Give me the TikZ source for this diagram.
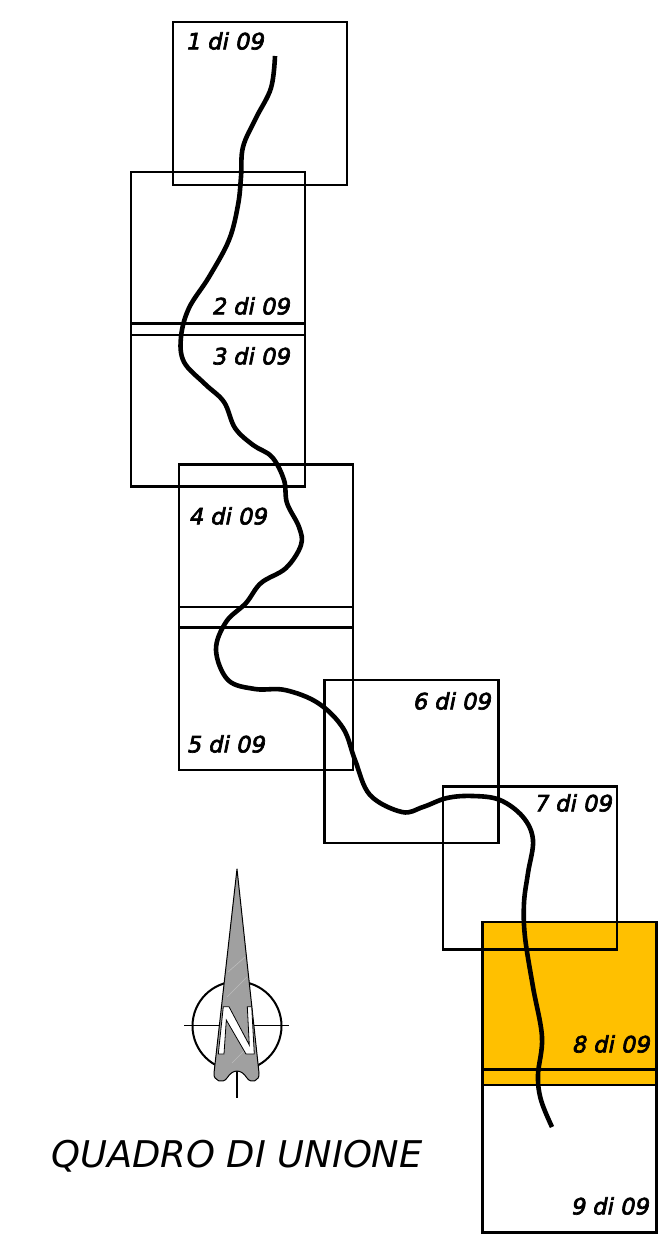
\documentclass[tikz,border=0pt]{standalone}
\usepackage{fontspec}
\setmainfont{DejaVu Sans}
\newfontfamily\sheetfont{DejaVu Sans}[FakeBold=3, FakeSlant=0.2]
\newfontfamily\titlefont{DejaVu Sans}
\definecolor{sheetorange}{HTML}{FFC000}
\definecolor{needlegray}{HTML}{A0A0A0}
\definecolor{needlehatch}{HTML}{BDBDBD}
\begin{document}
\begin{tikzpicture}[x=1pt, y=-1pt, line join=miter,
	sheet/.style={draw, line width=2.4pt, minimum width=174pt, minimum height=163pt, outer sep=0pt, inner sep=0pt, anchor=north west},
	sheetlabel/.style={font=\sheetfont\fontsize{22.5}{22.5}\selectfont, inner sep=0pt, anchor=center},
	river/.style={line width=4.6pt, line cap=butt, line join=round}]
	\useasboundingbox (0, 0) rectangle (667, 1235);

	% Fogli
	\node[sheet, fill=sheetorange] (foglio8) at (482.5, 922) {};
	\node[sheet] (foglio1) at (173, 22) {};
	\node[sheet] (foglio2) at (131, 172) {};
	\node[sheet] (foglio3) at (131, 323.5) {};
	\node[sheet] (foglio4) at (179, 464.5) {};
	\node[sheet] (foglio5) at (179, 607) {};
	\node[sheet] (foglio6) at (324.5, 680) {};
	\node[sheet] (foglio7) at (443, 786.5) {};
	\node[sheet] (foglio9) at (482.5, 1069.5) {};

	% Etichette
	\node[sheetlabel] (lab1) at (224.5, 41) {1 di 09};
	\node[sheetlabel] (lab2) at (250.5, 306) {2 di 09};
	\node[sheetlabel] (lab3) at (250.5, 356) {3 di 09};
	\node[sheetlabel] (lab4) at (227.5, 516) {4 di 09};
	\node[sheetlabel] (lab5) at (225.5, 744) {5 di 09};
	\node[sheetlabel] (lab6) at (451.5, 701) {6 di 09};
	\node[sheetlabel] (lab7) at (572.5, 803) {7 di 09};
	\node[sheetlabel] (lab8) at (610.5, 1044) {8 di 09};
	\node[sheetlabel] (lab9) at (609.5, 1206) {9 di 09};

	% Fiume
	\draw[river] plot[smooth, tension=0.6] coordinates {(275, 56) (271, 88) (256, 118) (243, 147) (241, 177) (238, 205) (229, 240) (209, 277) (189, 308) (181, 337) (184, 362) (205, 384) (224, 402) (235, 428) (253, 445) (272, 457) (284, 480) (287, 503) (299, 527) (301, 545) (286, 568) (261, 583) (246, 603) (226, 622) (216, 650) (228, 680) (255, 689) (285, 690) (318, 703) (343, 728) (355, 760) (370, 795) (402, 812) (423, 807) (447, 798) (473, 796) (500, 800) (523, 817) (533, 840) (528, 873) (524, 903) (525, 937) (533, 987) (542, 1037) (538, 1075) (541, 1100) (552, 1127)};

	% Nord
	\draw[line width=2pt] (237, 1026) circle (44.5);
	\draw[line width=1.8pt] (184, 1025.5) -- (289, 1025.5);
	\draw[line width=1.8pt] (237, 1071) -- (237, 1098);
	\draw[line width=1pt, fill=needlegray, line join=round] (237, 869) -- (259, 1073)
		.. controls (260, 1081) and (251, 1084) .. (247, 1078)
		.. controls (244, 1073) and (240, 1071) .. (237, 1071)
		.. controls (234, 1071) and (230, 1073) .. (227, 1078)
		.. controls (223, 1084) and (213, 1081) .. (214, 1073) -- cycle;
	\draw[line width=0.6pt, needlehatch] (232, 1063) -- (248, 1047);
	\draw[line width=0.6pt, needlehatch] (227, 997) -- (247, 977);
	\draw[line width=0.6pt, needlehatch] (228, 972) -- (245, 957);
	\draw[line width=0.8pt, fill=white] (218.3, 1054) -- (223.3, 1006.7) -- (229, 1006.7) -- (249.3, 1045) -- (247.3, 1006.7) -- (251.7, 1006.7) -- (254.3, 1054) -- (246, 1054) -- (226.3, 1020) -- (224, 1054) -- cycle;

	% Titolo
	\node[font=\titlefont\fontsize{36.8}{36.8}\selectfont\itshape, inner sep=0pt] (titolo) at (237, 1156) {QUADRO DI UNIONE};
\end{tikzpicture}
\end{document}
